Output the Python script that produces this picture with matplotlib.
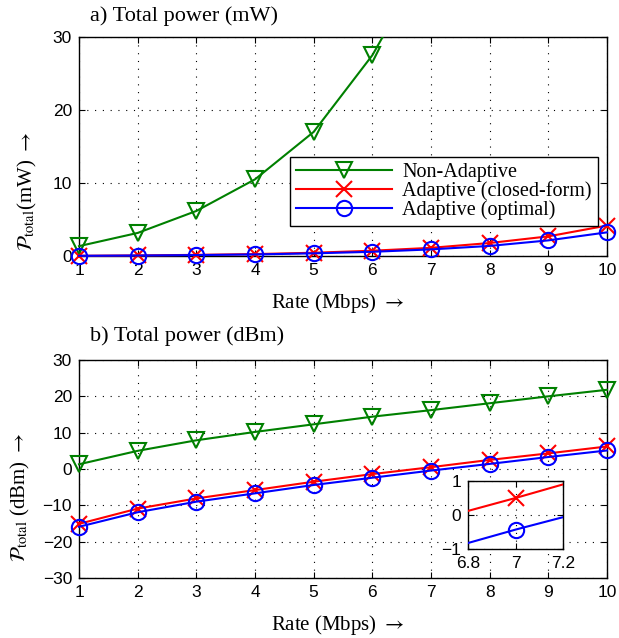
import matplotlib
matplotlib.use("Agg")
import matplotlib.pyplot as plt
from matplotlib.transforms import Bbox, TransformedBbox
import numpy as np

plt.rcParams['mathtext.fontset'] = 'stix'
plt.rcParams['font.family'] = ['Liberation Sans', 'DejaVu Sans']

rate = [1, 2, 3, 4, 5, 6, 7, 8, 9, 10]

# dBm values
na_dbm = [1.3, 5.0, 7.9, 10.2, 12.3, 14.4, 16.2, 18.1, 20.0, 21.8]
cf_dbm = [-15.1, -10.9, -8.1, -5.8, -3.5, -1.4, 0.5, 2.5, 4.3, 6.2]
opt_dbm = [-15.9, -11.9, -9.0, -6.7, -4.4, -2.4, -0.43, 1.4, 3.3, 5.1]

# mW values
na_mw = [1.35, 3.16, 6.17, 10.5, 17.0, 27.5, 41.7, 64.6, 100.0, 151.0]
cf_mw = [0.031, 0.081, 0.155, 0.263, 0.447, 0.724, 1.12, 1.78, 2.69, 4.17]
opt_mw = [0.026, 0.065, 0.126, 0.214, 0.363, 0.575, 0.906, 1.38, 2.14, 3.24]

labels = ['Non-Adaptive', 'Adaptive (closed-form)', 'Adaptive (optimal)']
colors = ['#008000', '#ff0000', '#0000ff']
markers = ['v', 'x', 'o']
msizes = [11, 12, 11]

W, H = 619, 638
fig = plt.figure(figsize=(W / 100, H / 100), dpi=100)

def px_axes(l, t, r, b):
    return fig.add_axes([l / W, (H - b) / H, (r - l) / W, (b - t) / H])

serif = ['Liberation Serif', 'DejaVu Serif']

def style(ax, fs=12.5):
    ax.tick_params(direction='in', top=True, right=True, length=4, width=0.8,
                   labelsize=fs, pad=5)
    ax.grid(True, linestyle=(0, (1, 6)), color='black', linewidth=0.8)
    for s in ax.spines.values():
        s.set_linewidth(1.0)
        s.set_zorder(1)

ax1 = px_axes(79, 37, 607, 256)
ax2 = px_axes(79, 360, 607, 578)

for ys, ax in (((na_mw, cf_mw, opt_mw), ax1), ((na_dbm, cf_dbm, opt_dbm), ax2)):
    clip = TransformedBbox(Bbox([[-0.06, -0.08], [1.06, 1.0]]), ax.transAxes)
    for y, c, m, ms, lab in zip(ys, colors, markers, msizes, labels):
        ln, = ax.plot(rate, y, color=c, marker=m, markersize=ms, mfc='none',
                      mec=c, mew=1.5, lw=1.5, label=lab, zorder=3)
        ln.set_clip_box(clip)
    ax.set_xlim(1, 10)
    ax.set_xticks(rate)
    style(ax)

ax1.set_ylim(0, 30)
ax1.set_yticks([0, 10, 20, 30])
ax2.set_ylim(-30, 30)
ax2.set_yticks([-30, -20, -10, 0, 10, 20, 30])
ax2.set_yticklabels(['\u221230', '\u221220', '\u221210', '0', '10', '20', '30'])

leg = ax1.legend(loc='upper right', bbox_to_anchor=(0.983, 0.452), borderaxespad=0,
                 prop={'family': serif, 'size': 14.5}, fancybox=False, edgecolor='black',
                 framealpha=1, handlelength=4.8, handletextpad=0.5, labelspacing=-0.05,
                 borderpad=0.3, handleheight=0.6)
leg.get_frame().set_linewidth(1.0)
leg.set_zorder(5)

fig.text(90 / W, 1 - 16 / H, 'a) Total power (mW)', family=serif, fontsize=16,
         ha='left', va='center')
fig.text(90 / W, 1 - 336 / H, 'b) Total power (dBm)', family=serif, fontsize=16,
         ha='left', va='center')

fig.text(338 / W, 1 - 303 / H, r'Rate (Mbps) $\rightarrow$', family=serif, fontsize=15,
         ha='center', va='center')
fig.text(338 / W, 1 - 625 / H, r'Rate (Mbps) $\rightarrow$', family=serif, fontsize=15,
         ha='center', va='center')

fig.text(27 / W, 1 - 191 / H, r'$\mathcal{P}_{\rm total}$(mW) $\rightarrow$', family=serif,
         fontsize=15, rotation=90, ha='center', va='center')
fig.text(20 / W, 1 - 498 / H, r'$\mathcal{P}_{\rm total}$ (dBm) $\rightarrow$', family=serif,
         fontsize=15, rotation=90, ha='center', va='center')

# inset
ax3 = px_axes(468, 481, 563, 549)
ax3.patch.set_facecolor('white')
ax3.set_zorder(6)
for y, c, m, ms in zip((cf_dbm, opt_dbm), colors[1:], markers[1:], msizes[1:]):
    ax3.plot(rate, y, color=c, marker=m, markersize=ms, mfc='none', mec=c, mew=1.5, lw=1.5)
ax3.set_xlim(6.8, 7.2)
ax3.set_ylim(-1, 1)
ax3.set_xticks([6.8, 7, 7.2])
ax3.set_xticklabels(['6.8', '7', '7.2'])
ax3.set_yticks([-1, 0, 1])
ax3.set_yticklabels(['\u22121', '0', '1'])
style(ax3, fs=12.5)

fig.savefig('out.png', dpi=100)
